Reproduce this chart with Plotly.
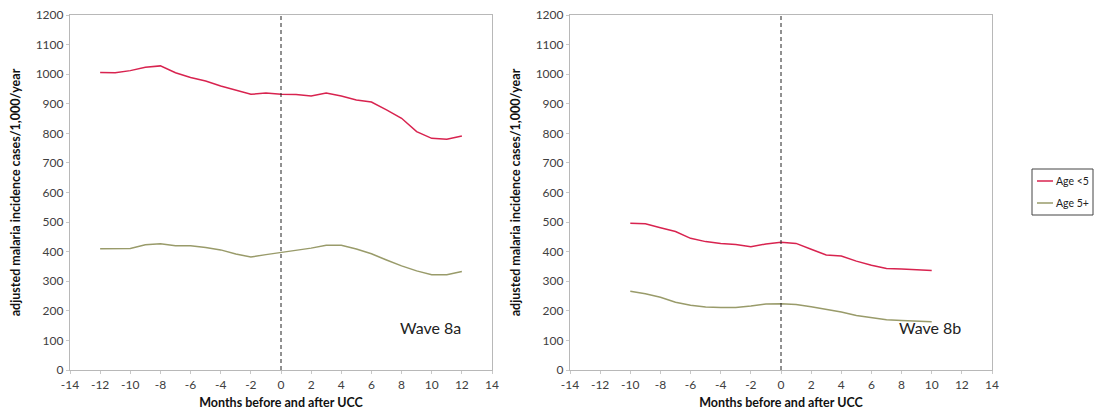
import plotly.graph_objects as go

# Wave 8a: months relative to UCC and adjusted incidence per 1,000/year
months_8a = list(range(-12, 13))
under5_8a = [1006, 1005, 1012, 1023, 1028, 1005, 989, 977, 960, 945, 932, 936, 932,
             931, 926, 936, 926, 913, 906, 879, 851, 806, 783, 780, 791]
over5_8a = [410, 410, 411, 423, 427, 420, 420, 414, 406, 392, 382, 390, 397,
            406, 412, 422, 422, 409, 393, 372, 352, 335, 322, 322, 333]

# Wave 8b
months_8b = list(range(-10, 11))
under5_8b = [496, 494, 481, 468, 445, 434, 428, 424, 417, 426, 432,
             428, 408, 389, 385, 368, 354, 343, 341, 339, 336]
over5_8b = [266, 258, 246, 229, 219, 213, 211, 211, 216, 223, 224,
            221, 214, 205, 196, 184, 176, 170, 167, 165, 163]

series_names = ["Age <5", "Age 5+"]
panel_labels = ["Wave 8a", "Wave 8b"]
x_ticks = list(range(-14, 15, 2))
x_tick_text = [str(v) for v in x_ticks]  # plain hyphen minus signs
y_ticks = list(range(0, 1201, 100))

RED = "#D8234F"
OLIVE = "#999B6A"
FONT = "Lato, 'Open Sans', sans-serif"
series_colors = [RED, OLIVE]

W, H = 1099, 418

fig = go.Figure()

panels = [
    ("x", "y", months_8a, under5_8a, over5_8a),
    ("x2", "y2", months_8b, under5_8b, over5_8b),
]
for i, (xa, ya, m, u5, o5) in enumerate(panels):
    fig.add_trace(go.Scatter(x=m, y=u5, mode="lines", name=series_names[0],
                             line=dict(color=RED, width=1.5),
                             xaxis=xa, yaxis=ya, showlegend=False))
    fig.add_trace(go.Scatter(x=m, y=o5, mode="lines", name=series_names[1],
                             line=dict(color=OLIVE, width=1.5),
                             xaxis=xa, yaxis=ya, showlegend=False))
    # vertical reference line at UCC (month 0)
    fig.add_shape(type="line", xref=xa, yref=ya, x0=0, x1=0, y0=0, y1=1200,
                  line=dict(color="#222222", width=1, dash="4px,3px"))

axis_common = dict(showgrid=False, zeroline=False, showline=True, mirror=True,
                   linecolor="#B8B8B8", linewidth=1.2, ticks="outside",
                   ticklen=3, tickcolor="#C8C8C8", automargin=False,
                   tickfont=dict(family=FONT, size=12, color="#404040"))


def px_x(p):
    return p / W


def px_y(p):
    return 1 - p / H


x_dom = [(px_x(70), px_x(492)), (px_x(570), px_x(992))]
y_dom = (px_y(370), px_y(15))

for i, (xk, yk) in enumerate([("xaxis", "yaxis"), ("xaxis2", "yaxis2")]):
    fig.layout[xk] = dict(axis_common, domain=x_dom[i], range=[-14, 14],
                          tickvals=x_ticks, ticktext=x_tick_text,
                          anchor="y" if i == 0 else "y2",
                          title=dict(text="<b>Months before and after UCC</b>",
                                     font=dict(family=FONT, size=12.5, color="#111111"),
                                     standoff=7))
    fig.layout[yk] = dict(axis_common, domain=y_dom, range=[0, 1200],
                          tickvals=y_ticks, anchor="x" if i == 0 else "x2",
                          title=dict(text="<b>adjusted malaria incidence cases/1,000/year</b>",
                                     font=dict(family=FONT, size=12.5, color="#111111"),
                                     standoff=12))

for xa, ya, label in [("x", "y", panel_labels[0]), ("x2", "y2", panel_labels[1])]:
    fig.add_annotation(xref=xa, yref=ya, x=12.05, y=145, text=label,
                       showarrow=False, xanchor="right", yanchor="middle",
                       font=dict(family=FONT, size=16, color="#222222"))

# Legend box with short line samples
fig.add_shape(type="rect", xref="paper", yref="paper",
              x0=px_x(1032), x1=px_x(1093), y0=px_y(215), y1=px_y(169),
              line=dict(color="#444444", width=1), fillcolor="white")
for k, (name, color) in enumerate(zip(series_names, series_colors)):
    ypos = px_y(181 + 22 * k)
    fig.add_shape(type="line", xref="paper", yref="paper",
                  x0=px_x(1037), x1=px_x(1053), y0=ypos, y1=ypos,
                  line=dict(color=color, width=1.5))
    fig.add_annotation(xref="paper", yref="paper", x=px_x(1054), y=ypos,
                       text=name, showarrow=False, xanchor="left", yanchor="middle",
                       font=dict(family=FONT, size=10.5, color="#222222"))

fig.update_layout(
    width=W, height=H,
    margin=dict(l=0, r=0, t=0, b=0),
    paper_bgcolor="white", plot_bgcolor="white",
    showlegend=False,
)

fig.write_html("out.html")
